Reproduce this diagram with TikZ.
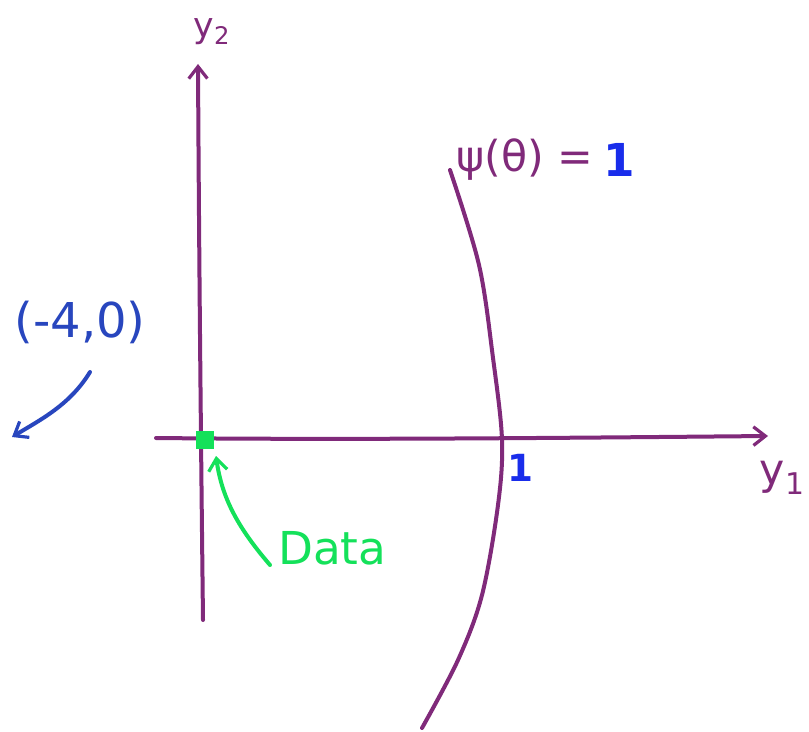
\documentclass[tikz,border=0pt]{standalone}
\usepackage{fontspec}
\setmainfont{DejaVu Sans}
\usetikzlibrary{arrows.meta}
\definecolor{pur}{RGB}{128,42,122}
\definecolor{bluetxt}{RGB}{40,70,190}
\definecolor{bright}{RGB}{25,45,235}
\definecolor{grn}{RGB}{20,225,90}
\tikzset{
  pen/.style={line width=3pt, line cap=round, line join=round},
  tip/.style={-{Straight Barb[length=9pt,width=14pt,line width=2.4pt]}},
  lbl/.style={inner sep=0pt, anchor=center},
}
\begin{document}
\begin{tikzpicture}[x=0.75pt,y=-0.75pt]
\useasboundingbox (0,0) rectangle (809,731);
\fill[white] (0,0) rectangle (809,731);
% axes
\coordinate (y2b) at (203,620);
\coordinate (y2t) at (198,64);
\coordinate (y1l) at (156,438);
\coordinate (y1r) at (768,436);
\draw[pen,pur,tip] (y2b) .. controls (201,450) and (199,250) .. (y2t);
\draw[pen,pur,tip] (y1l) .. controls (350,440) and (550,438) .. (y1r);
\node[lbl,pur,font=\fontsize{26}{26}\selectfont] (y2lab) at (212,32) {y\textsubscript{2}};
\node[lbl,pur,font=\fontsize{32}{32}\selectfont,anchor=east] (y1lab) at (805,478) {y\textsubscript{1}};
% curve
\coordinate (c0) at (450,170);
\coordinate (c1) at (479,265);
\coordinate (c2) at (493,358);
\coordinate (c3) at (502,440);
\coordinate (c4) at (498,505);
\coordinate (c5) at (482,595);
\coordinate (c6) at (458,660);
\coordinate (c7) at (422,728);
\draw[pen,pur] plot[smooth,tension=0.55] coordinates {(c0) (c1) (c2) (c3) (c4) (c5) (c6) (c7)};
\node[lbl,pur,font=\fontsize{32}{32}\selectfont,anchor=west] (psi) at (456,160) {ψ(θ) =};
\node[lbl,bright,font=\fontsize{34}{34}\selectfont\bfseries,anchor=west] (psione) at (603,160) {1};
\node[lbl,bright,font=\fontsize{28}{28}\selectfont\bfseries] (one) at (520,468) {1};
% (-4,0)
\node[lbl,bluetxt,font=\fontsize{36}{36}\selectfont] (pt) at (80,322) {(-4,0)};
\coordinate (ba) at (90,372);
\coordinate (bb) at (12,437);
\draw[pen,bluetxt,tip] (ba) .. controls (70,405) and (40,420) .. (bb);
% data
\node[fill=grn,minimum size=14pt,inner sep=0pt] (sq) at (205,440) {};
\node[lbl,grn,font=\fontsize{34}{34}\selectfont,anchor=west] (data) at (278,548) {Data};
\coordinate (ga) at (270,565);
\coordinate (gb) at (216,456);
\draw[pen,grn,tip] (ga) .. controls (240,530) and (222,500) .. (gb);
\end{tikzpicture}
\end{document}
